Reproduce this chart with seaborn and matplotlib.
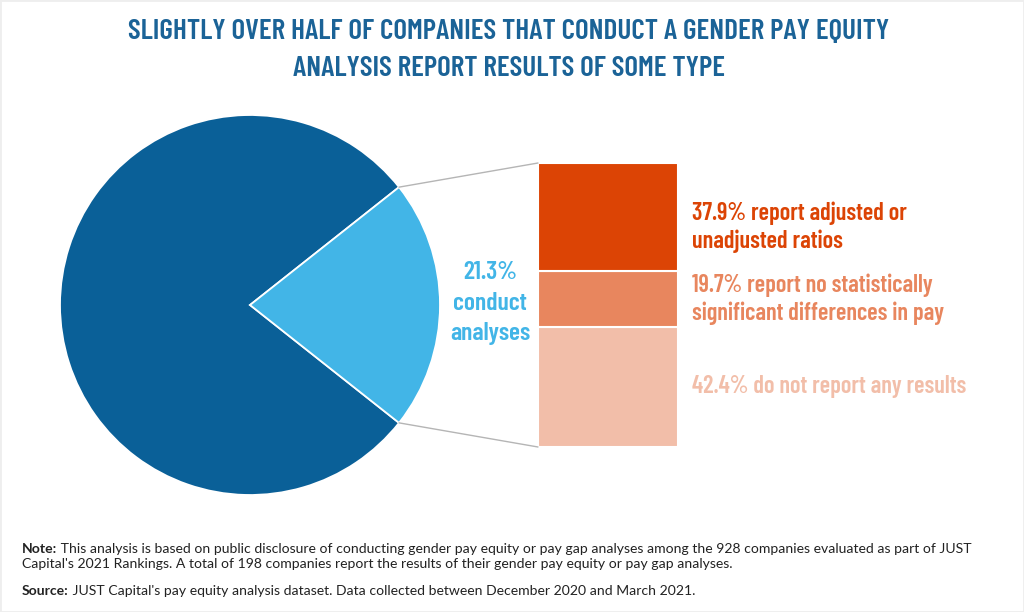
import matplotlib
matplotlib.use('Agg')
import matplotlib.pyplot as plt
from matplotlib.patches import ConnectionPatch, Rectangle
import seaborn as sns
import numpy as np

# Dados do gráfico
pie_labels = ['Do not conduct analyses', 'Conduct analyses']
pie_values = [78.7, 21.3]
bar_labels = ['42.4% do not report any results',
              '19.7% report no statistically\nsignificant differences in pay',
              '37.9% report adjusted or\nunadjusted ratios']
bar_values = [42.4, 19.7, 37.9]

title = ('SLIGHTLY OVER HALF OF COMPANIES THAT CONDUCT A GENDER PAY EQUITY\n'
         'ANALYSIS REPORT RESULTS OF SOME TYPE')
note_rest = (' This analysis is based on public disclosure of conducting gender pay equity or pay gap '
             'analyses among the 928 companies evaluated as part of JUST')
note_line2 = "Capital's 2021 Rankings. A total of 198 companies report the results of their gender pay equity or pay gap analyses."
source_rest = " JUST Capital's pay equity analysis dataset. Data collected between December 2020 and March 2021."

# Cores
blue_dark = '#0a6098'
blue_light = '#42b5e7'
oranges = ['#f2bea9', '#e8865e', '#dc4405']
title_color = '#1b6397'

sns.set_theme(style='white')
cond = ['Barlow Condensed', 'DejaVu Sans']
plt.rcParams['font.family'] = ['Lato', 'DejaVu Sans']

fig = plt.figure(figsize=(10.24, 6.12), dpi=100)
W, H = 1024, 612

# Pizza
ax_pie = fig.add_axes([60 / W, (H - 495) / H, 380 / W, 380 / H])
start = pie_values[1] / 100 * 360 / 2
ax_pie.pie(pie_values, colors=[blue_dark, blue_light], startangle=start, counterclock=True,
           wedgeprops=dict(edgecolor='white', linewidth=1.3))
ax_pie.set_xlim(-1, 1)
ax_pie.set_ylim(-1, 1)
ax_pie.set_aspect('equal')
ax_pie.axis('off')

# Barra empilhada
ax_bar = fig.add_axes([538 / W, (H - 447) / H, 140 / W, 284 / H])
bottom = 0
for val, col in zip(bar_values, oranges):
    ax_bar.bar(0, val, width=1, bottom=bottom, color=col, edgecolor='white', linewidth=1.5)
    bottom += val
ax_bar.set_xlim(-0.5, 0.5)
ax_bar.set_ylim(0, 100)
ax_bar.axis('off')

# Linhas de ligação
ang = np.deg2rad(start)
for sign, yb in [(1, 100), (-1, 0)]:
    con = ConnectionPatch(xyA=(np.cos(ang), sign * np.sin(ang)), coordsA=ax_pie.transData,
                          xyB=(-0.5, yb), coordsB=ax_bar.transData,
                          color='#b5b5b5', linewidth=1)
    fig.add_artist(con)

# Textos
fig.text(509 / W, 1 - 50 / H, title, ha='center', va='center', fontsize=21, fontweight='semibold',
         color=title_color, family=cond, linespacing=1.62)

fig.text(490 / W, 1 - 303 / H, '21.3%\nconduct\nanalyses', ha='center', va='center',
         fontsize=18.5, fontweight='semibold', color=blue_light, family=cond, linespacing=1.4)

label_y = [387, 299, 227]
for lab, col, yy in zip(bar_labels, oranges, label_y):
    fig.text(692 / W, 1 - yy / H, lab, ha='left', va='center', fontsize=17.5, fontweight='semibold',
             color=col, family=cond, linespacing=1.26)

# Notas de rodapé
note = fig.text(22 / W, 1 - 549 / H, 'Note:', ha='left', va='center', fontsize=10.1,
                fontweight='bold', color='#222222')
plt.annotate(note_rest, xy=(1, 0.5), xycoords=note, ha='left', va='center',
             fontsize=10.1, color='#222222', annotation_clip=False)
fig.text(22 / W, 1 - 564 / H, note_line2, ha='left', va='center', fontsize=10.1, color='#222222')
src = fig.text(22 / W, 1 - 591 / H, 'Source:', ha='left', va='center', fontsize=10.1,
               fontweight='bold', color='#222222')
plt.annotate(source_rest, xy=(1, 0.5), xycoords=src, ha='left', va='center',
             fontsize=10.1, color='#222222', annotation_clip=False)

# Borda leve
fig.add_artist(Rectangle((0, 0), 1, 1, transform=fig.transFigure, fill=False,
                         edgecolor='#eeeeee', linewidth=2))

fig.savefig('out.png', dpi=100, facecolor='white')
